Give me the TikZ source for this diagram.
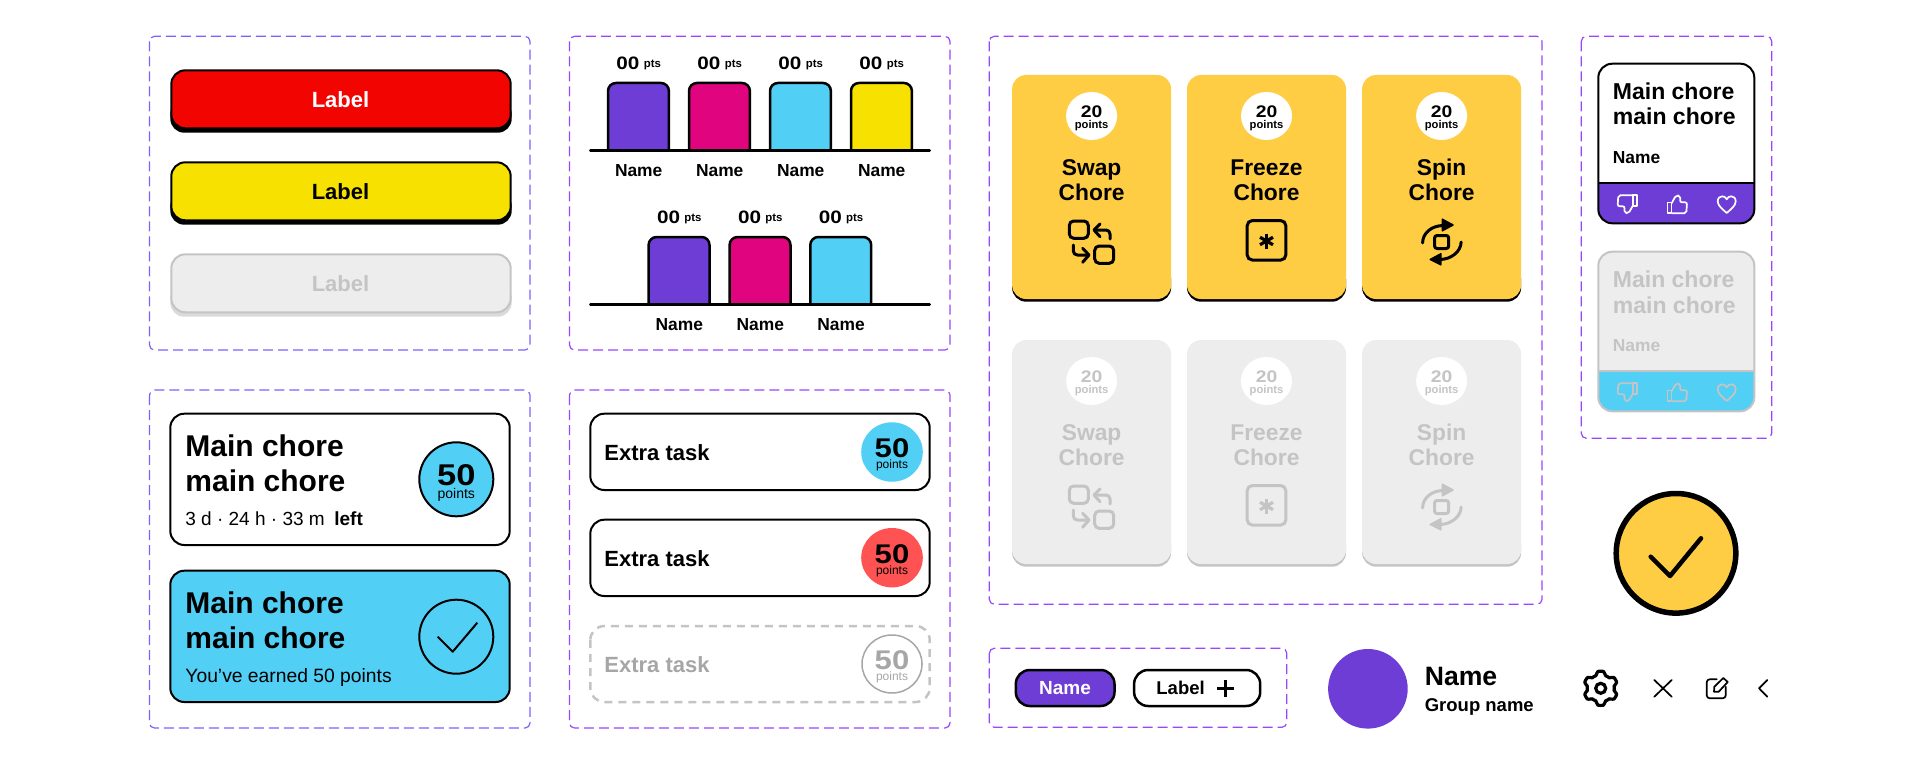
\documentclass[tikz,border=0pt]{standalone}
\usepackage{fontspec}
\setmainfont{Liberation Sans}
\newfontfamily\digitfont[FakeStretch=1.15]{Liberation Sans}

\definecolor{cRed}{HTML}{F20400}
\definecolor{cYellow}{HTML}{F7E100}
\definecolor{cGold}{HTML}{FFCD44}
\definecolor{cBlue}{HTML}{52CFF5}
\definecolor{cPurple}{HTML}{6D3DD6}
\definecolor{cPink}{HTML}{E0047F}
\definecolor{cCoral}{HTML}{FF5353}
\definecolor{cGrey}{HTML}{EDEDED}
\definecolor{cShade}{HTML}{DADADA}
\definecolor{cBorder}{HTML}{C4C4C4}
\definecolor{cMute}{HTML}{A6A6A6}
\definecolor{cFrameA}{HTML}{7B61FF}
\definecolor{cFrameB}{HTML}{9747FF}
\newcommand{\fsz}[1]{\fontsize{#1}{#1}\selectfont}

\tikzset{
    thumbicon/.pic={
        \draw[line width=.85pt, line join=round] (-9.7,-1.7) rectangle (-5.7,9);
        \draw[line width=.85pt, rounded corners=1pt] (-5.7,-1) -- (-1.3,-9) -- (3,-8.5) -- (2.7,-2) -- (9.7,-2) -- (9,9) -- (-5.7,9);
    },
    hearticon/.pic={
        \draw[line width=.85pt, line join=round] (0,8.7) .. controls (-4,5) and (-9,1.5) .. (-9,-3) .. controls (-9,-6.5) and (-6.5,-8) .. (-4.5,-8) .. controls (-2.5,-8) and (-1,-7) .. (0,-5) .. controls (1,-7) and (2.5,-8) .. (4.5,-8) .. controls (6.5,-8) and (9,-6.5) .. (9,-3) .. controls (9,1.5) and (4,5) .. (0,8.7) -- cycle;
    },
    swapicon/.pic={
        \draw[line width=1.5pt, rounded corners=2.2pt] (-22.3,-20) rectangle (-3.3,-2.7);
        \draw[line width=1.5pt, rounded corners=2.2pt] (3.1,5) rectangle (22.1,22.3);
        \draw[line width=1.5pt, line cap=round, line join=round, rounded corners=2pt] (18.4,-2) -- (18.4,-11) -- (3,-11);
        \draw[line width=1.5pt, line cap=round, line join=round] (8.4,-17) -- (2.4,-11) -- (8.4,-4.3);
        \draw[line width=1.5pt, line cap=round, line join=round, rounded corners=2pt] (-18.3,4) -- (-18.3,14) -- (-3,14);
        \draw[line width=1.5pt, line cap=round, line join=round] (-9,7.3) -- (-2.6,14) -- (-9,21.3);
    },
    freezeicon/.pic={
        \draw[line width=1.5pt, rounded corners=2.5pt] (-19.3,-20.4) rectangle (19.3,19);
        \foreach \ang in {90,30,150} {
            \draw[line width=1.6pt] (\ang:-7.5) -- (\ang:7.5);
        }
    },
    spinicon/.pic={
        \draw[line width=1.5pt, rounded corners=1.2pt] (-7,-5.5) rectangle (7,7.5);
        \draw[line width=1.5pt, line cap=round] (-19,2) .. controls (-19,-8) and (-10,-15.5) .. (2,-15.5);
        \fill[line join=round, rounded corners=.5pt] (0,-23) -- (13,-16) -- (0,-9) -- cycle;
        \draw[line width=1.5pt, line cap=round] (19.5,1) .. controls (19.5,10) and (10,18.5) .. (-2,18.5);
        \fill[rounded corners=.5pt] (0,11.5) -- (-13,18.5) -- (0,25) -- cycle;
    },
    gearicon/.pic={
        \draw[line width=1.6pt, line join=round] plot[smooth cycle, domain=0:357, samples=120] ({cos(\x)*(15.3+1.8*max(-1,min(1,-1.7*cos(6*\x))))},{sin(\x)*(15.3+1.8*max(-1,min(1,-1.7*cos(6*\x))))});
        \draw[line width=1.6pt] (0,0) circle (5);
    },
}

\begin{document}
\begin{tikzpicture}[
        x=.5pt, y=-.5pt,
        frame/.style={draw=cFrameB, line width=.6pt, rounded corners=2.5pt, dash pattern=on 5pt off 2.5pt},
        frameA/.style={frame, draw=cFrameA},
        box/.style={draw=black, line width=1pt, rounded corners=7pt},
        txt/.style={anchor=base, inner sep=0pt, align=center},
        txtl/.style={anchor=base west, inner sep=0pt, align=left},
        barbox/.style={draw=black, line width=1.25pt, rounded corners=4pt},
        axisline/.style={line width=1.25pt, line cap=round},
        tick/.style={line width=.85pt, line cap=round, line join=round},
    ]
    \useasboundingbox (0,0) rectangle (1921,765);

    % frames
    \draw[frameA] (149.5,36.3) rectangle (530,350);
    \draw[frameA] (149.5,390) rectangle (530,728);
    \draw[frame] (569.5,36.3) rectangle (950,350);
    \draw[frame] (569.5,390) rectangle (950,728);
    \draw[frame] (989.3,36.3) rectangle (1542,604.3);
    \draw[frame] (1581.3,36.3) rectangle (1771.7,438.3);
    \draw[frame] (989.3,648.3) rectangle (1286.8,727.3);

    % buttons
    \foreach \by/\bfill/\bline/\bshade/\btext/\bname in {0/cRed/black/black/white/red, 92/cYellow/black/black/black/yellow, 184/cGrey/cBorder/cShade/cBorder/off} {
        \fill[\bshade, rounded corners=7pt] (170.3,100+\by) rectangle (511.7,132.7+\by);
        \draw[box, draw=\bline, fill=\bfill] (171.3,70.3+\by) rectangle (510.7,128.3+\by);
        \node[txt, text=\btext, font=\bfseries\fsz{11}] (btn\bname) at (340.5,107.3+\by) {Label};
    }

    % main chore cards
    \draw[box, fill=white] (170.3,413.7) rectangle (509.7,545);
    \node[txtl, font=\bfseries\fontsize{15}{17.25}\selectfont] (choreOpen) at (185,491) {Main chore\\main chore};
    \node[txtl, font=\fsz{9.5}] (choreLeft) at (185,525.7) {3 d · 24 h · 33 m\hspace{4.8pt}\textbf{left}};
    \draw[line width=1pt, fill=cBlue] (456.3,479.3) circle (37);
    \node[txt, font=\digitfont\bfseries\fsz{15}] (choreNum) at (456.3,485) {50};
    \node[txt, font=\fsz{7}] (chorePts) at (456.3,498) {points};

    \draw[box, fill=cBlue] (170.3,570.7) rectangle (509.7,702);
    \node[txtl, font=\bfseries\fontsize{15}{17.25}\selectfont] (choreDone) at (185,648) {Main chore\\main chore};
    \node[txtl, font=\fsz{9.65}] (choreEarned) at (185,682.7) {You’ve earned 50 points};
    \draw[line width=1pt] (456.3,636.7) circle (37);
    \draw[tick, line width=1pt, line cap=butt] (437.7,636.7) -- (452.7,651.7) -- (477.3,622.7);

    % charts
    \foreach \bx/\bc/\bartop/\barbase/\numy/\namey/\bi in {
        638.7/cPurple/83/150.3/69.3/176.7/a, 719.7/cPink/83/150.3/69.3/176.7/b, 800.7/cBlue/83/150.3/69.3/176.7/c, 881.7/cYellow/83/150.3/69.3/176.7/d,
        679.3/cPurple/237/304.3/223.3/330.7/e, 760.3/cPink/237/304.3/223.3/330.7/f, 841/cBlue/237/304.3/223.3/330.7/g} {
        \draw[barbox, fill=\bc] (\bx-30.7,\barbase) -- (\bx-30.7,\bartop) -- (\bx+30.2,\bartop) -- (\bx+30.2,\barbase);
        \node[txt] (score\bi) at (\bx,\numy) {{\digitfont\bfseries\fsz{9}00}\hspace{2.2pt}\raisebox{1pt}{\bfseries\fsz{5.7}pts}};
        \node[txt, font=\bfseries\fsz{8.7}] (name\bi) at (\bx,\namey) {Name};
    }
    \draw[axisline] (590.3,150.3) -- (929.7,150.3);
    \draw[axisline] (590.3,304.3) -- (929.7,304.3);

    % extra tasks
    \draw[box, fill=white] (590.3,413.7) rectangle (929.7,490);
    \node[txtl, font=\bfseries\fsz{11}] (extraA) at (604,460) {Extra task};
    \fill[cBlue] (892,452) ellipse (30.8 and 29.7);
    \node[txt, font=\digitfont\bfseries\fsz{13.5}] (extraNumA) at (892,457.3) {50};
    \node[txt, font=\fsz{6}] (extraPtsA) at (892,468.7) {points};

    \draw[box, fill=white] (590.3,519.7) rectangle (929.7,596);
    \node[txtl, font=\bfseries\fsz{11}] (extraB) at (604,566) {Extra task};
    \fill[cCoral] (892,557.7) ellipse (30.8 and 29.7);
    \node[txt, font=\digitfont\bfseries\fsz{13.5}] (extraNumB) at (892,563) {50};
    \node[txt, font=\fsz{6}] (extraPtsB) at (892,574.4) {points};

    \draw[draw=cBorder, line width=1.25pt, rounded corners=7pt, dash pattern=on 4pt off 3pt] (590.3,626) rectangle (929.7,702);
    \node[txtl, text=cMute, font=\bfseries\fsz{11}] (extraC) at (604,672) {Extra task};
    \draw[cMute, line width=.75pt] (892,664) ellipse (30 and 29);
    \node[txt, text=cMute, font=\digitfont\bfseries\fsz{13.5}] (extraNumC) at (892,669.3) {50};
    \node[txt, text=cMute, font=\fsz{6}] (extraPtsC) at (892,680.7) {points};

    % power cards
    \foreach \ytop/\bodyc/\lipc/\inkc/\rowname in {75/cGold/black/black/on, 340/cGrey/cBorder/cBorder/off} {
        \foreach \cx/\first/\icon in {1091.6/Swap/swapicon, 1266.5/Freeze/freezeicon, 1441.6/Spin/spinicon} {
            \fill[\lipc, rounded corners=7pt] (\cx-79.5,\ytop+190) rectangle (\cx+79.5,\ytop+226.7);
            \fill[\bodyc, rounded corners=7pt] (\cx-79.5,\ytop) rectangle (\cx+79.5,\ytop+224);
            \fill[white] (\cx,\ytop+41) ellipse (25.5 and 24);
            \node[txt, text=\inkc, font=\digitfont\bfseries\fsz{8.4}] (\first num\rowname) at (\cx,\ytop+42.5) {20};
            \node[txt, text=\inkc, font=\bfseries\fsz{5.6}] (\first pts\rowname) at (\cx,\ytop+53.3) {points};
            \node[txt, text=\inkc, font=\bfseries\fontsize{11.4}{12.5}\selectfont] (\first title\rowname) at (\cx,\ytop+125) {\first\\Chore};
            \pic[color=\inkc] at (\cx,\ytop+166) {\icon};
        }
    }

    % comment cards
    \foreach \dy/\lowc/\linec/\inkc/\cn in {0/cPurple/black/white/a, 188/cBlue/cBorder/cBorder/b} {
        \ifnum\dy=0\relax\def\bodyc{white}\def\wordc{black}\else\def\bodyc{cGrey}\def\wordc{cBorder}\fi
        \fill[\bodyc, rounded corners=7pt] (1598.3,63.7+\dy) rectangle (1754.3,223.3+\dy);
        \fill[\lowc] (1598.3,182.7+\dy) [rounded corners=7pt] -- (1598.3,223.3+\dy) -- (1754.3,223.3+\dy) [sharp corners] -- (1754.3,182.7+\dy) -- cycle;
        \draw[box, draw=\linec] (1598.3,63.7+\dy) rectangle (1754.3,223.3+\dy);
        \draw[\linec, line width=1pt] (1598.3,182.7+\dy) -- (1754.3,182.7+\dy);
        \node[txtl, text=\wordc, font=\bfseries\fontsize{11.5}{13}\selectfont] (note\cn) at (1612.5,125+\dy) {Main chore\\main chore};
        \node[txtl, text=\wordc, font=\bfseries\fsz{8.7}] (noteName\cn) at (1612.5,163.3+\dy) {Name};
        \pic[color=\inkc, rotate=180] at (1627.3,204.3+\dy) {thumbicon};
        \pic[color=\inkc] at (1677.3,204.3+\dy) {thumbicon};
        \pic[color=\inkc] at (1726.7,204.3+\dy) {hearticon};
    }

    % big check
    \draw[line width=2.75pt, fill=cGold] (1676,553.3) circle (59.8);
    \draw[line width=2.25pt, line cap=round, line join=round] (1650.7,556.7) -- (1670,576) -- (1701,538.3);

    % tags
    \draw[line width=1.25pt, fill=cPurple, rounded corners=7pt] (1015.8,670) rectangle (1114.5,706);
    \node[txt, text=white, font=\bfseries\fsz{9.5}] (tagName) at (1065,694.3) {Name};
    \draw[line width=1.25pt, rounded corners=7pt] (1134.1,670) rectangle (1260.2,706);
    \node[txtl, font=\bfseries\fsz{9.25}] (tagLabel) at (1156,694.3) {Label};
    \draw[line width=1.5pt] (1217.3,688.3) -- (1234.1,688.3) (1225.7,680) -- (1225.7,696.6);

    % profile
    \fill[cPurple] (1367.9,688.8) circle (39.8);
    \node[txtl, font=\bfseries\fsz{13.3}] (profileName) at (1424.4,685.7) {Name};
    \node[txtl, font=\bfseries\fsz{9.25}] (profileGroup) at (1424.4,711) {Group name};

    % toolbar icons
    \pic at (1600.7,688.3) {gearicon};
    \draw[tick] (1654.3,680) -- (1671.7,696.7) (1671.7,680) -- (1654.3,696.7);
    \draw[tick, rounded corners=1.5pt] (1716.7,679.3) -- (1706.7,679.3) -- (1706.7,698.3) -- (1725.7,698.3) -- (1725.7,686.7);
    \draw[tick] (1714,691.7) -- (1714.3,686.7) -- (1723.3,678) -- (1727.7,682) -- (1718.7,691.7) -- cycle;
    \draw[tick] (1767.3,680) -- (1759,688.3) -- (1767.3,696.7);
\end{tikzpicture}
\end{document}
